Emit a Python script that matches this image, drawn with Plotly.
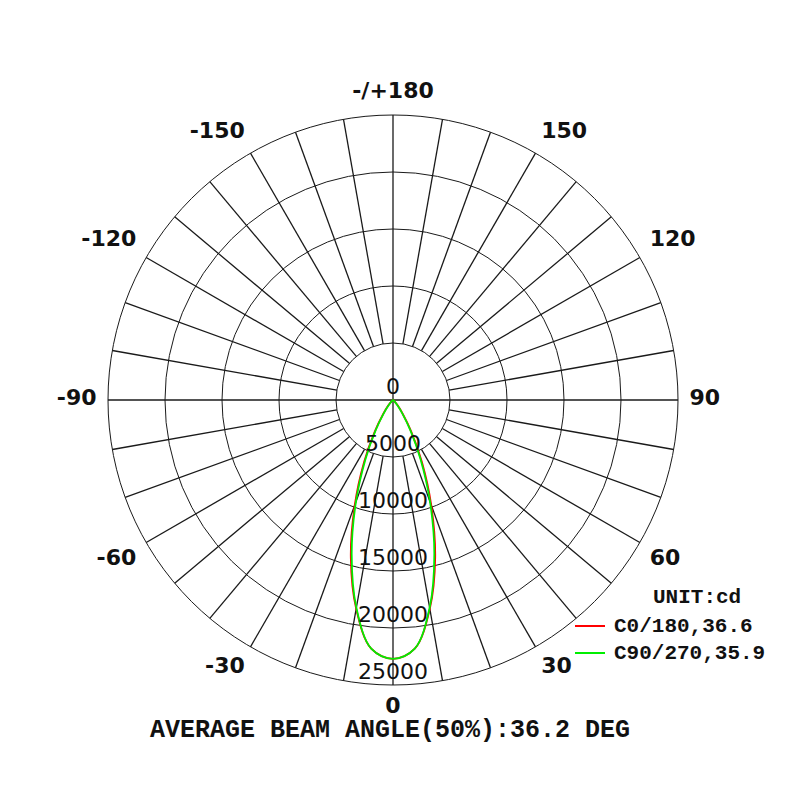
import plotly.graph_objects as go

# ---- data ----
gamma = [0, 5, 10, 15, 20, 25, 30, 35, 40, 50, 60, 70, 80, 90]
c0_180 = [22700, 21900, 18600, 14300, 9800, 6000, 3200, 1500, 700, 150, 50, 20, 0, 0]
c90_270 = [22700, 21900, 18500, 14000, 9500, 5700, 3000, 1400, 600, 120, 40, 10, 0, 0]

radial_ticks = [0, 5000, 10000, 15000, 20000, 25000]
angle_tickvals = [0, 30, 60, 90, 120, 150, 180, 210, 240, 270, 300, 330]
angle_ticktext = ["0", "30", "60", "90", "120", "150", "-/+180",
                  "-150", "-120", "-90", "-60", "-30"]
series_names = ["C0/180,36.6", "C90/270,35.9"]
series_colors = ["#ff0000", "#00ee00"]
unit_text = "UNIT:cd"
footer_text = "AVERAGE BEAM ANGLE(50%):36.2 DEG"

R_MAX = 25000
R_INNER = 5000
R_RANGE = 27200   # radial range (room for the angle labels)
R_LABEL = 26000   # anchor radius of the angle labels
MONO = "Courier New, Liberation Mono, monospace"
INK = "#111111"
GRID = "#1a1a1a"


def label_position(a):
    """text position of an angle label so it sits outside the circle"""
    if a == 0:
        return "bottom center"
    if a == 180:
        return "top center"
    if a == 90:
        return "middle right"
    if a == 270:
        return "middle left"
    vert = "bottom" if (a < 90 or a > 270) else "top"
    horiz = "right" if a < 180 else "left"
    return vert + " " + horiz


fig = go.Figure()

# spokes every 10 degrees (start at inner ring except the main axes)
sp_r, sp_t = [], []
for a in range(0, 360, 10):
    r0 = 0 if a % 90 == 0 else R_INNER
    sp_r += [r0, R_MAX, None]
    sp_t += [a, a, None]
fig.add_trace(go.Scatterpolar(r=sp_r, theta=sp_t, mode="lines",
                              line=dict(color=GRID, width=1.3),
                              showlegend=False, hoverinfo="skip"))


def mirror(vals):
    th = [-g for g in reversed(gamma[1:])] + gamma
    rr = list(reversed(vals[1:])) + vals
    return th, rr


for name, vals, col in [(series_names[0], c0_180, series_colors[0]),
                        (series_names[1], c90_270, series_colors[1])]:
    th, rr = mirror(vals)
    fig.add_trace(go.Scatterpolar(r=rr, theta=th, mode="lines", name=name,
                                  line=dict(color=col, width=1.8, shape="spline"),
                                  showlegend=False))

# radial labels along the 0 direction
fig.add_trace(go.Scatterpolar(r=radial_ticks, theta=[0] * len(radial_ticks),
                              mode="text", text=[str(v) for v in radial_ticks],
                              textposition="top center",
                              textfont=dict(family="DejaVu Sans", size=22, color=INK),
                              showlegend=False, hoverinfo="skip"))

# angular labels outside the outer circle
fig.add_trace(go.Scatterpolar(r=[R_LABEL] * len(angle_tickvals), theta=angle_tickvals,
                              mode="text", text=angle_ticktext,
                              textposition=[label_position(a) for a in angle_tickvals],
                              textfont=dict(family="DejaVu Sans", size=22, color=INK,
                                            weight="bold"),
                              showlegend=False, hoverinfo="skip"))

# custom legend
shapes = []
annotations = [dict(text=unit_text, x=0.86125, y=0.26375, xref="paper", yref="paper",
                    showarrow=False, xanchor="center", yanchor="middle",
                    font=dict(family=MONO, size=21, weight="bold", color=INK))]
leg_y = [0.2275, 0.19375]
for name, col, yy in zip(series_names, series_colors, leg_y):
    shapes.append(dict(type="line", xref="paper", yref="paper",
                       x0=0.70875, x1=0.74625, y0=yy, y1=yy,
                       line=dict(color=col, width=2)))
    annotations.append(dict(text=name, x=0.755, y=yy, xref="paper", yref="paper",
                            showarrow=False, xanchor="left", yanchor="middle",
                            font=dict(family=MONO, size=21, weight="bold", color=INK)))

annotations.append(dict(text=footer_text, x=0.4775, y=0.097, xref="paper", yref="paper",
                        showarrow=False, xanchor="center", yanchor="middle",
                        font=dict(family=MONO, size=25, weight="bold", color=INK)))

dom_half = 0.35625 * R_RANGE / R_MAX
fig.update_layout(
    width=800, height=800,
    margin=dict(l=0, r=0, t=0, b=0),
    paper_bgcolor="white",
    polar=dict(
        domain=dict(x=[0.48125 - dom_half, 0.48125 + dom_half],
                    y=[0.51 - dom_half, 0.51 + dom_half]),
        bgcolor="white",
        radialaxis=dict(range=[0, R_RANGE], tickvals=radial_ticks[1:],
                        showticklabels=False, ticks="", showline=False,
                        gridcolor=GRID, gridwidth=1.3),
        angularaxis=dict(rotation=270, direction="counterclockwise",
                         tickvals=angle_tickvals, showticklabels=False,
                         showgrid=False, ticks="", showline=False),
    ),
    showlegend=False,
    shapes=shapes,
    annotations=annotations,
)

fig.write_html("out.html")
